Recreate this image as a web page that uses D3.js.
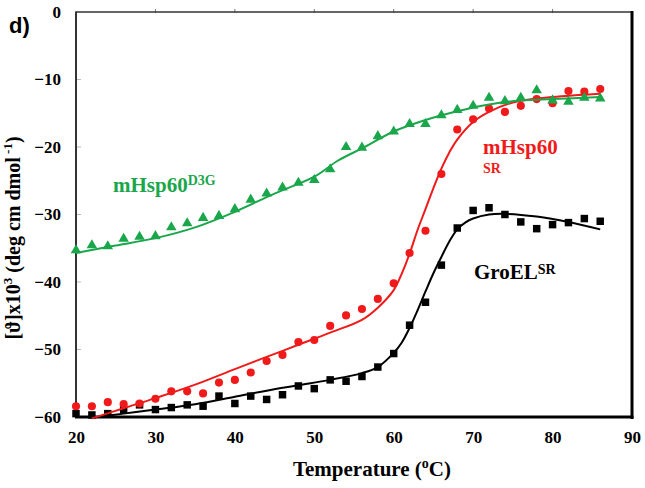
<!DOCTYPE html>
<html>
<head>
<meta charset="utf-8">
<script src="https://cdn.jsdelivr.net/npm/d3@7"></script>
<style>
  body { margin: 0; background: #fff; }
  svg { display: block; }
  .tick text { font-family: "Liberation Serif", "Times New Roman", serif; font-weight: bold; font-size: 17px; fill: #000; }
</style>
</head>
<body>
<svg id="chart" width="645" height="488"></svg>
<script>
// ---- data ----
const temps = [20,22,24,26,28,30,32,34,36,38,40,42,44,46,48,50,52,54,56,58,60,62,64,66,68,70,72,74,76,78,80,82,84,86];
const d3gValues = [-35.3,-34.55,-34.7,-33.6,-33.3,-33.2,-31.9,-31.3,-30.5,-30.2,-29.2,-27.8,-26.9,-26.0,-25.3,-24.9,-23.3,-20.0,-20.1,-18.4,-17.7,-16.6,-16.6,-15.3,-14.5,-13.9,-12.7,-13.2,-12.7,-11.6,-13.1,-13.3,-12.7,-12.8];
const srValues = [-58.4,-58.4,-57.8,-58.1,-58.0,-57.3,-56.2,-56.2,-56.5,-54.9,-54.5,-53.4,-51.7,-50.8,-48.9,-48.6,-46.5,-44.95,-44.0,-42.5,-40.2,-35.7,-32.4,-24.0,-17.4,-15.9,-14.3,-14.8,-13.9,-12.9,-13.5,-11.7,-11.8,-11.4];
const groelValues = [-59.5,-59.7,-59.5,-58.9,-58.2,-58.9,-58.6,-58.2,-58.4,-56.9,-58.0,-56.9,-57.4,-56.7,-55.4,-55.8,-54.5,-54.7,-54.0,-52.6,-50.6,-46.4,-43.0,-37.5,-32.0,-29.4,-29.0,-30.0,-31.1,-32.1,-31.5,-31.2,-30.6,-31.0];

// fitted curves
const d3gFitT = [20,25,30,35,40,45,50,53,56,60,64,68,72,76,80,86];
const d3gFitV = [-35.7,-34.6,-33.5,-31.9,-29.6,-26.9,-24.4,-22.0,-20.2,-17.7,-16.0,-14.7,-13.7,-13.1,-12.9,-12.6];
const srFitT = [22,26,30,35,40,44,48,52,56,58,60,61,62,63,64,65,66,67,68,70,72,75,80,86];
const srFitV = [-60.2,-58.7,-57.2,-55.2,-52.9,-51.1,-49.3,-47.5,-45.6,-43.8,-41.2,-38.8,-35.8,-32.3,-29.2,-26.1,-23.2,-20.8,-18.9,-16.3,-14.8,-13.4,-12.6,-12.1];
const groelFitT = [22,26,30,35,40,44,48,52,56,58,60,61,62,63,64,65,66,67,68,69,70,72,74,78,82,86];
const groelFitV = [-60.1,-59.5,-58.9,-58.1,-57.0,-56.1,-55.3,-54.5,-53.5,-52.6,-50.5,-49.0,-46.8,-44.2,-41.4,-38.7,-36.3,-34.0,-32.2,-31.2,-30.6,-30.0,-29.9,-30.3,-31.1,-32.2];

const xTicks = [20,30,40,50,60,70,80,90];
const yTicks = [-60,-50,-40,-30,-20,-10,0];

// ---- layout ----
const svg = d3.select("#chart");
const x = d3.scaleLinear().domain([20,90]).range([76,632]);
const y = d3.scaleLinear().domain([-60,0]).range([417,12]);
const GREEN = "#1aa64b", RED = "#f01a1a", BLACK = "#000";
const serif = '"Liberation Serif", "Times New Roman", serif';

// axes labels
svg.append("g").attr("transform","translate(0,417)")
  .call(d3.axisBottom(x).tickValues(xTicks).tickSize(0).tickPadding(14).tickFormat(d3.format("d")))
  .call(g => g.select(".domain").remove());
svg.append("g").attr("transform","translate(76,0)")
  .call(d3.axisLeft(y).tickValues(yTicks).tickSize(0).tickPadding(15).tickFormat(d3.format("d")))
  .call(g => g.select(".domain").remove());

// small ticks
svg.append("g").selectAll("line").data(xTicks.slice(1,-1)).join("line")
  .attr("x1", d=>x(d)).attr("x2", d=>x(d)).attr("y1", 9).attr("y2", 13)
  .attr("stroke","#777").attr("stroke-width",1);
svg.append("g").selectAll("line").data(yTicks.slice(1,-1)).join("line")
  .attr("x1", 76).attr("x2", 81).attr("y1", d=>y(d)).attr("y2", d=>y(d))
  .attr("stroke","#bbb").attr("stroke-width",1);

// frame
svg.append("line").attr("x1",76).attr("x2",632).attr("y1",12).attr("y2",12).attr("stroke","#333").attr("stroke-width",1.5);
svg.append("line").attr("x1",76).attr("x2",76).attr("y1",11.5).attr("y2",418).attr("stroke","#333").attr("stroke-width",2);
svg.append("line").attr("x1",632).attr("x2",632).attr("y1",11).attr("y2",419).attr("stroke","#000").attr("stroke-width",3);
svg.append("line").attr("x1",75).attr("x2",633.5).attr("y1",417).attr("y2",417).attr("stroke","#000").attr("stroke-width",3);

const line = d3.line().x(d=>x(d[0])).y(d=>y(d[1])).curve(d3.curveCatmullRom.alpha(0.5));
function drawSeries(fitT, fitV, vals, color, symbolType, size) {
  svg.append("path").datum(fitT.map((t,i)=>[t, fitV[i]]))
    .attr("d", line).attr("fill","none").attr("stroke",color).attr("stroke-width",2);
  svg.append("g").selectAll("path").data(temps.map((t,i)=>[t, vals[i]])).join("path")
    .attr("transform", d=>`translate(${x(d[0])},${y(d[1])})`)
    .attr("d", d3.symbol().type(symbolType).size(size))
    .attr("fill", color);
}
drawSeries(groelFitT, groelFitV, groelValues, BLACK, d3.symbolSquare, 56);
drawSeries(srFitT, srFitV, srValues, RED, d3.symbolCircle, 52);
drawSeries(d3gFitT, d3gFitV, d3gValues, GREEN, d3.symbolTriangle, 48);

// series labels
const t1 = svg.append("text").attr("x",113).attr("y",192).attr("fill",GREEN)
  .attr("font-family",serif).attr("font-weight","bold").attr("font-size",21);
t1.append("tspan").text("mHsp60");
t1.append("tspan").attr("font-size",14).attr("dy",-7).text("D3G");

svg.append("text").attr("x",483).attr("y",154).attr("fill",RED)
  .attr("font-family",serif).attr("font-weight","bold").attr("font-size",21).text("mHsp60");
svg.append("text").attr("x",483).attr("y",173).attr("fill",RED)
  .attr("font-family",serif).attr("font-weight","bold").attr("font-size",14).text("SR");

const t3 = svg.append("text").attr("x",474).attr("y",279).attr("fill",BLACK)
  .attr("font-family",serif).attr("font-weight","bold").attr("font-size",21);
t3.append("tspan").text("GroEL");
t3.append("tspan").attr("font-size",14).attr("dy",-5).text("SR");

// axis titles
const xt = svg.append("text").attr("x",372).attr("y",476).attr("text-anchor","middle")
  .attr("font-family",serif).attr("font-weight","bold").attr("font-size",21);
xt.append("tspan").text("Temperature (");
xt.append("tspan").attr("font-size",14).attr("dy",-8).text("o");
xt.append("tspan").attr("dy",8).text("C)");

const yt = svg.append("text").attr("transform","translate(20,238) rotate(-90)").attr("text-anchor","middle")
  .attr("font-family",serif).attr("font-weight","bold").attr("font-size",20);
yt.append("tspan").text("[ϑ]x10");
yt.append("tspan").attr("font-size",13).attr("dy",-8).text("3");
yt.append("tspan").attr("dy",8).text(" (deg cm dmol");
yt.append("tspan").attr("font-size",13).attr("dy",-8).text(" -1");
yt.append("tspan").attr("dy",8).text(")");

// panel label
svg.append("text").attr("x",9).attr("y",33).attr("font-family",'"Liberation Sans", Arial, sans-serif')
  .attr("font-weight","bold").attr("font-size",22).text("d)");
</script>
</body>
</html>
